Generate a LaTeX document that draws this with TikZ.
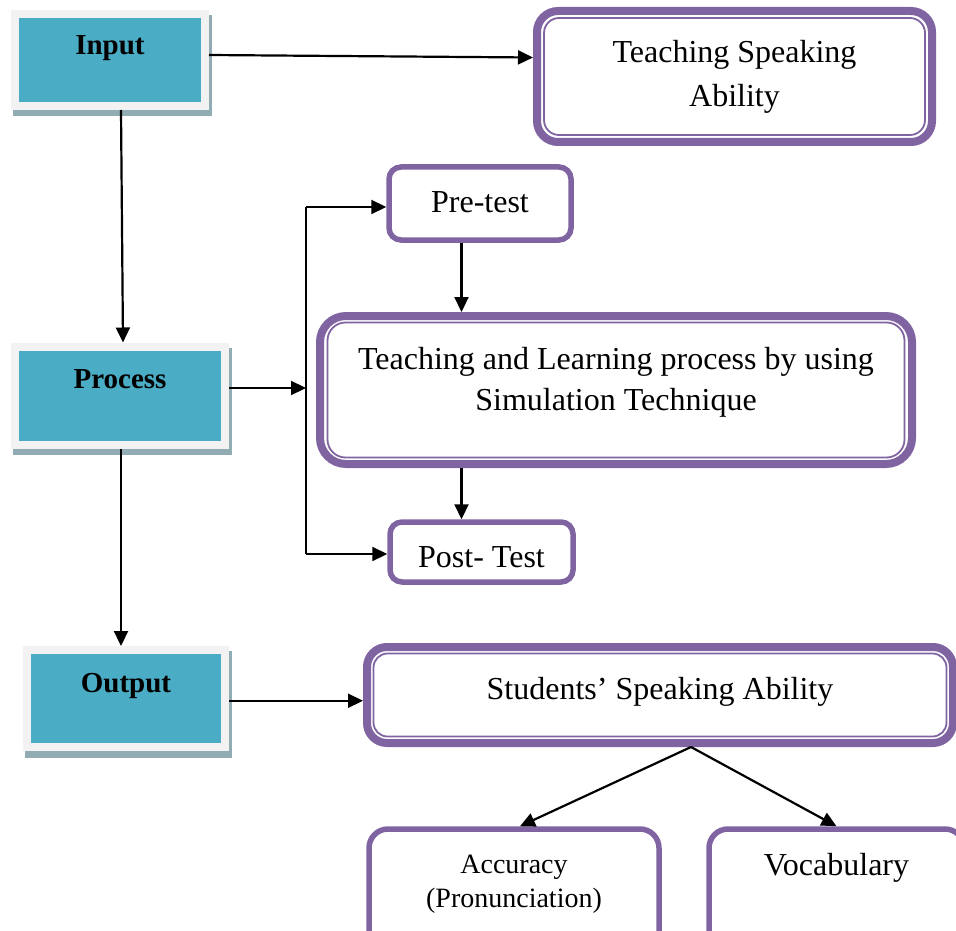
\documentclass[tikz,border=0pt]{standalone}
\usepackage{fontspec}
\setmainfont{Liberation Serif}
\usetikzlibrary{arrows.meta,backgrounds}
\definecolor{purp}{HTML}{8064A2}
\definecolor{tealc}{HTML}{4BACC6}
\definecolor{framec}{HTML}{F2F2F2}
\definecolor{shad}{RGB}{146,172,180}
\begin{document}
\begin{tikzpicture}[x=1pt,y=1pt,
  tealbox/.style={draw=framec, line width=8pt, fill=tealc, inner sep=0pt,
    font=\fontsize{29}{34}\selectfont\bfseries},
  dbox/.style={draw=purp, line width=8pt, rounded corners=20pt, fill=white, inner sep=0pt,
    font=\fontsize{32}{44}\selectfont},
  sbox/.style={draw=purp, line width=5.5pt, rounded corners=12pt, fill=white, inner sep=0pt,
    font=\fontsize{32}{40}\selectfont},
  inline/.style={draw=purp, line width=1.8pt, rounded corners=14pt},
  arr/.style={draw=black, line width=2.2pt, -{Triangle[length=15pt,width=14pt]}},
  ln/.style={draw=black, line width=2.2pt}]

\useasboundingbox (0,0) rectangle (956,-931);
\clip (0,0) rectangle (956,-931);

% left column
\node[tealbox, minimum width=190pt, minimum height=92pt, text height=0pt, text depth=10pt] (inp) at (110,-60) {Input};
\node[tealbox, minimum width=210pt, minimum height=98.5pt, text height=0pt, text depth=15.5pt] (proc) at (120,-395.75) {Process};
\node[tealbox, minimum width=198pt, minimum height=96.5pt, text height=0pt, text depth=12.5pt] (outp) at (126,-698.25) {Output};

% double boxes
\node[dbox, rounded corners=21pt, minimum width=395pt, minimum height=131pt, text height=0pt, text depth=27pt] (tsa) at (734.5,-76.5)
  {\begin{tabular}[t]{@{}c@{}}Teaching Speaking\\Ability\end{tabular}};
\node[dbox, rounded corners=26pt, minimum width=592pt, minimum height=148pt, text height=0pt, text depth=42pt,
  font=\fontsize{32}{41}\selectfont] (tl) at (616,-390)
  {\begin{tabular}[t]{@{}c@{}}Teaching and Learning process by using\\Simulation Technique\end{tabular}};
\node[dbox, rounded corners=20pt, minimum width=586pt, minimum height=96pt, text height=8pt, text depth=0pt] (stu) at (660,-695)
  {Students’ Speaking Ability};

\draw[inline, rounded corners=15pt] ([shift={(11,-11)}]tsa.north west) rectangle ([shift={(-11,11)}]tsa.south east);
\draw[inline, rounded corners=18pt] ([shift={(11.5,-10.5)}]tl.north west) rectangle ([shift={(-11.5,10.5)}]tl.south east);
\draw[inline, rounded corners=14pt] ([shift={(10.5,-10.5)}]stu.north west) rectangle ([shift={(-10.5,10.5)}]stu.south east);

% single boxes
\node[sbox, minimum width=182pt, minimum height=73pt, text height=17pt, text depth=0pt] (pre) at (480,-203.5) {Pre-test};
\node[sbox, minimum width=183pt, minimum height=60pt, text height=30pt, text depth=0pt] (post) at (481.5,-552) {Post- Test};
\node[sbox, rounded corners=19pt, minimum width=290pt, minimum height=131pt, text height=0pt, text depth=43pt,
  font=\fontsize{28}{34}\selectfont] (acc) at (514,-894.5)
  {\begin{tabular}[t]{@{}c@{}}Accuracy\\(Pronunciation)\end{tabular}};
\node[sbox, rounded corners=19pt, minimum width=255pt, minimum height=131pt, text height=0pt, text depth=39pt] (voc) at (836.5,-894.5) {Vocabulary};

% shadows
\begin{scope}[on background layer]
  \fill[shad] ([shift={(2,-5)}]inp.north west) rectangle ([shift={(3,-6)}]inp.south east);
  \fill[shad] ([shift={(2,-5)}]proc.north west) rectangle ([shift={(3,-6)}]proc.south east);
  \fill[shad] ([shift={(2,-5)}]outp.north west) rectangle ([shift={(3,-7)}]outp.south east);
\end{scope}

% connectors
\draw[arr] ([yshift=5pt]inp.east) -- ([yshift=19pt]tsa.west);
\draw[arr] ([xshift=11pt]inp.south) -- ([xshift=3pt]proc.north);
\draw[arr] ([xshift=1pt]proc.south) -- ([xshift=-5pt]outp.north);

\coordinate (bx) at (306,-388);
\coordinate (bt) at (306,-207);
\coordinate (bb) at (306,-554);
\draw[arr] ([yshift=7.75pt]proc.east) -- (bx);
\draw[ln] (bt) -- (bb);
\draw[arr] (bt) -- (bt -| pre.west);
\draw[arr] (bb) -- (bb -| post.west);

\coordinate (vx) at (461.5,0);
\draw[arr] (vx |- pre.south) -- (vx |- tl.north);
\draw[arr] (vx |- tl.south) -- (vx |- post.north);

\draw[arr] ([yshift=-2.5pt]outp.east) -- ([yshift=-2.5pt]outp.east -| stu.west);

\coordinate (sp) at ([xshift=31pt]stu.south);
\draw[arr] (sp) -- ([xshift=6pt]acc.north);
\draw[arr] (sp) -- (voc.north);
\end{tikzpicture}
\end{document}
